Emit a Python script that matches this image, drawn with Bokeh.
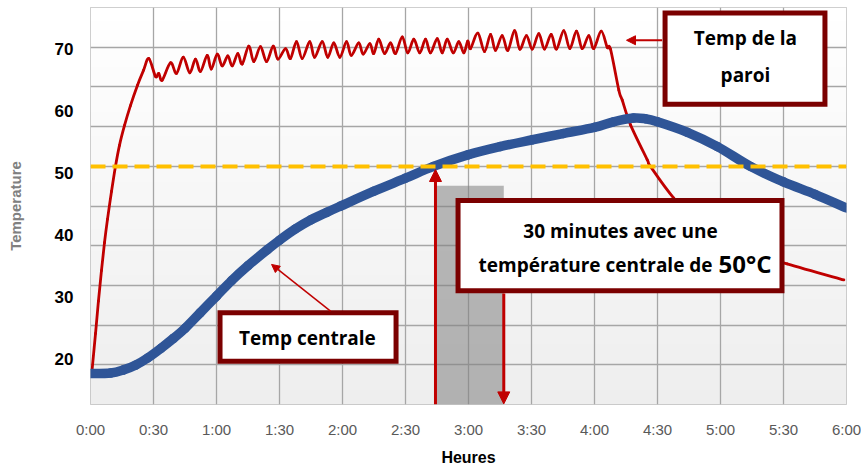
import numpy as np
from bokeh.plotting import figure
from bokeh.models import FixedTicker, Arrow, NormalHead, Span
from bokeh.core.properties import value
from bokeh.embed import file_html
from bokeh.resources import INLINE

# ---------------- data ----------------
x_ticks = [0, 0.5, 1, 1.5, 2, 2.5, 3, 3.5, 4, 4.5, 5, 5.5, 6]
x_tick_labels = ["0:00", "0:30", "1:00", "1:30", "2:00", "2:30", "3:00",
                 "3:30", "4:00", "4:30", "5:00", "5:30", "6:00"]
y_ticks = [20, 30, 40, 50, 60, 70]

# core temperature (Temp centrale)
core_hours = [0.0, 0.16, 0.262, 0.36, 0.452, 0.56, 0.659, 0.75, 0.87, 1.0, 1.12,
              1.25, 1.405, 1.5, 1.625, 1.75, 1.875, 1.984, 2.25, 2.5, 2.722, 3.0,
              3.25, 3.508, 3.75, 4.0, 4.15, 4.31, 4.4, 4.5, 4.738, 4.976, 5.238,
              5.5, 5.75, 6.0]
core_temp = [17.7, 17.8, 18.3, 19.1, 20.2, 21.8, 23.4, 25.0, 27.5, 30.2, 32.7,
             35.1, 37.7, 39.2, 41.0, 42.5, 43.7, 44.7, 47.1, 49.2, 51.1, 53.0,
             54.3, 55.4, 56.4, 57.4, 58.3, 58.9, 58.8, 58.3, 56.6, 54.3, 51.1,
             48.6, 46.6, 44.4]

# wall temperature (Temp de la paroi)
wall_hours = [0.013, 0.040, 0.063, 0.087, 0.111, 0.135, 0.167, 0.198, 0.230, 0.270,
              0.317, 0.373, 0.421, 0.463, 0.516,
              0.542, 0.569, 0.635, 0.683, 0.736, 0.788, 0.833, 0.873, 0.926, 0.958,
              1.006, 1.045, 1.090, 1.125, 1.169, 1.204, 1.256, 1.296, 1.349, 1.397,
              1.450, 1.487, 1.548, 1.587, 1.635, 1.680, 1.740, 1.778, 1.839, 1.883,
              1.931, 1.979, 2.032, 2.069, 2.129, 2.164, 2.217, 2.248, 2.288, 2.333,
              2.381, 2.421, 2.474, 2.518, 2.566, 2.613, 2.659, 2.698, 2.752, 2.791,
              2.831, 2.879, 2.923, 2.963, 2.994, 3.016, 3.074, 3.127, 3.175, 3.214,
              3.267, 3.312, 3.365, 3.407, 3.460, 3.506, 3.558, 3.603, 3.656, 3.698,
              3.756, 3.804, 3.857, 3.902, 3.955, 3.994, 4.053, 4.101, 4.127, 4.193,
              4.220, 4.286, 4.418, 4.444, 4.629, 4.841, 5.159, 5.529, 5.979]
wall_temp = [18.4, 24.2, 29.4, 34.3, 38.8, 42.6, 47.1, 51.1, 54.5, 57.7,
             60.9, 64.2, 66.6, 68.5, 65.6,
             66.1, 65.0, 67.8, 66.1, 68.7, 66.2, 68.4, 66.4, 69.0, 66.8,
             69.2, 67.3, 68.9, 67.3, 69.3, 67.6, 70.5, 68.0, 70.4, 68.0,
             70.5, 68.4, 70.1, 68.5, 71.2, 68.5, 71.2, 68.7, 71.2, 68.7,
             71.0, 68.7, 71.2, 69.0, 71.0, 69.2, 70.9, 69.3, 71.6, 69.3,
             71.0, 69.3, 72.0, 69.4, 71.6, 69.4, 71.6, 69.4, 71.7, 69.4,
             71.6, 69.4, 71.2, 69.4, 71.3, 70.1, 72.6, 69.6, 72.4, 69.8,
             72.2, 69.8, 73.0, 70.0, 72.2, 70.0, 72.5, 70.0, 72.4, 70.0,
             73.0, 70.1, 72.9, 70.1, 72.2, 70.1, 72.9, 70.3, 70.0, 63.4,
             61.8, 57.8, 52.2, 51.1, 46.0, 41.8, 37.8, 35.4, 32.8]

target_temp = 51.1          # dashed threshold line
window_start = 2.75         # 30-minute window
window_end = 3.28
window_top = 48.0

# ---------------- figure ----------------
Y0, Y1 = 12.72, 76.72
grid_levels = [70.32, 63.92, 57.52, 51.12, 44.72, 38.32, 31.92, 25.52, 19.12]

p = figure(width=861, height=468, x_range=(0, 6), y_range=(Y0, Y1),
           output_backend="svg", toolbar_location=None,
           min_border_left=90, min_border_right=15, min_border_top=7,
           min_border_bottom=61)
p.outline_line_color = "#BFBFBF"
p.outline_line_width = 1
p.background_fill_color = "white"
p.border_fill_color = "white"

# background gradient (white top -> light grey bottom)
grad = np.linspace(0, 1, 200).reshape(200, 1)
pal = []
for i in range(256):
    c = int(round(0xEE + (0xFF - 0xEE) * i / 255))
    pal.append("#%02x%02x%02x" % (c, c, c))
p.image(image=[grad], x=0, y=Y0, dw=6, dh=Y1 - Y0, palette=pal, level="image")

# grids
p.xgrid.ticker = FixedTicker(ticks=x_ticks)
p.ygrid.ticker = FixedTicker(ticks=grid_levels)
for g in (p.xgrid, p.ygrid):
    g.grid_line_color = "#A6A6A6"
    g.grid_line_width = 1.3

# axes
p.xaxis.ticker = FixedTicker(ticks=x_ticks)
p.xaxis.major_label_overrides = {t: l for t, l in zip(x_ticks, x_tick_labels)}
p.yaxis.ticker = FixedTicker(ticks=y_ticks)
for ax in (p.xaxis, p.yaxis):
    ax.axis_line_color = None
    ax.major_tick_line_color = None
    ax.minor_tick_line_color = None
    ax.major_tick_out = 0
    ax.major_tick_in = 0
    ax.minor_tick_out = 0
    ax.minor_tick_in = 0

p.xaxis.major_label_text_font = "Liberation Sans"
p.xaxis.major_label_text_font_size = "15px"
p.xaxis.major_label_text_color = "#595959"
p.xaxis.major_label_standoff = 16
p.xaxis.axis_label = "Heures"
p.xaxis.axis_label_text_font = "Liberation Sans"
p.xaxis.axis_label_text_font_style = "bold"
p.xaxis.axis_label_text_font_size = "16px"
p.xaxis.axis_label_text_color = "#000000"
p.xaxis.axis_label_standoff = 8

p.yaxis.major_label_text_font = "Liberation Sans"
p.yaxis.major_label_text_font_style = "bold"
p.yaxis.major_label_text_font_size = "17px"
p.yaxis.major_label_text_color = "#000000"
p.yaxis.major_label_standoff = 17
p.yaxis.axis_label = "Temperature"
p.yaxis.axis_label_text_font = "Liberation Sans"
p.yaxis.axis_label_text_font_style = "bold"
p.yaxis.axis_label_text_font_size = "15px"
p.yaxis.axis_label_text_color = "#808080"
p.yaxis.axis_label_standoff = 28

RED = "#C00000"
DARK = "#7B0000"
BLUE = "#2F5597"


def smooth_curve(xs, ys, **kw):
    """Draw a Catmull-Rom Bezier chain passing through the given points."""
    wx = np.asarray(xs, dtype=float)
    wy = np.asarray(ys, dtype=float)
    px = np.concatenate([[wx[0]], wx, [wx[-1]]])
    py = np.concatenate([[wy[0]], wy, [wy[-1]]])
    n = len(wx)
    x0, y0 = px[1:n], py[1:n]
    x1, y1 = px[2:n + 1], py[2:n + 1]
    cx0 = x0 + (px[2:n + 1] - px[0:n - 1]) / 6.0
    cy0 = y0 + (py[2:n + 1] - py[0:n - 1]) / 6.0
    cx1 = x1 - (px[3:n + 2] - px[1:n]) / 6.0
    cy1 = y1 - (py[3:n + 2] - py[1:n]) / 6.0
    return p.bezier(x0=x0, y0=y0, x1=x1, y1=y1, cx0=cx0, cy0=cy0,
                    cx1=cx1, cy1=cy1, line_cap="round", **kw)


# 30-minute window
p.quad(left=[window_start], right=[window_end], top=[window_top], bottom=[Y0],
       fill_color="#7F7F7F", fill_alpha=0.55, line_color=None)

# curves
smooth_curve(wall_hours, wall_temp, line_color=RED, line_width=2.8)
smooth_curve(core_hours, core_temp, line_color=BLUE, line_width=9.5)

# threshold
p.add_layout(Span(location=target_temp, dimension="width", line_color="#FFC000",
                  line_width=4, line_dash="15 7"))

# arrows of the window
p.add_layout(Arrow(end=NormalHead(size=12, fill_color=RED, line_color=RED),
                   x_start=2.738, y_start=Y0, x_end=2.738, y_end=50.6,
                   line_color=RED, line_width=3))
p.add_layout(Arrow(end=NormalHead(size=12, fill_color=RED, line_color=RED),
                   x_start=window_end, y_start=30.6, x_end=window_end, y_end=Y0 + 0.1,
                   line_color=RED, line_width=3))

# label boxes
p.quad(left=[4.56, 2.917, 1.028], right=[5.829, 5.488, 2.425],
       top=[75.84, 45.6, 27.52], bottom=[61.12, 31.04, 19.68],
       fill_color="white", line_color=DARK, line_width=5, line_join="miter")

# pointer arrows
p.add_layout(Arrow(end=NormalHead(size=9, fill_color=RED, line_color=RED),
                   x_start=4.537, y_start=71.44, x_end=4.254, y_end=71.44,
                   line_color=RED, line_width=2))
p.add_layout(Arrow(end=NormalHead(size=8, fill_color=RED, line_color=RED),
                   x_start=1.905, y_start=27.76, x_end=1.437, y_end=35.3,
                   line_color=RED, line_width=1.5))

FONT = value("Open Sans")
p.text(x=[5.198, 5.198], y=[71.76, 65.84], text=["Temp de la", "paroi"],
       text_font=FONT, text_font_style="bold", text_font_size="19px",
       text_align="center", text_baseline="middle", text_color="#000000")
p.text(x=[1.722], y=[23.44], text=["Temp centrale"],
       text_font=FONT, text_font_style="bold", text_font_size="19px",
       text_align="center", text_baseline="middle", text_color="#000000")
p.text(x=[4.206], y=[40.72], text=["30 minutes avec une"],
       text_font=FONT, text_font_style="bold", text_font_size="19px",
       text_align="center", text_baseline="middle", text_color="#000000")
p.text(x=[4.937], y=[35.2], text=["température centrale de"],
       text_font=FONT, text_font_style="bold", text_font_size="19px",
       text_align="right", text_baseline="middle", text_color="#000000")
p.text(x=[4.984], y=[35.4], text=["50°C"],
       text_font=FONT, text_font_style="bold", text_font_size="24px",
       text_align="left", text_baseline="middle", text_color="#000000")

open("out.html", "w").write(file_html(p, INLINE))
